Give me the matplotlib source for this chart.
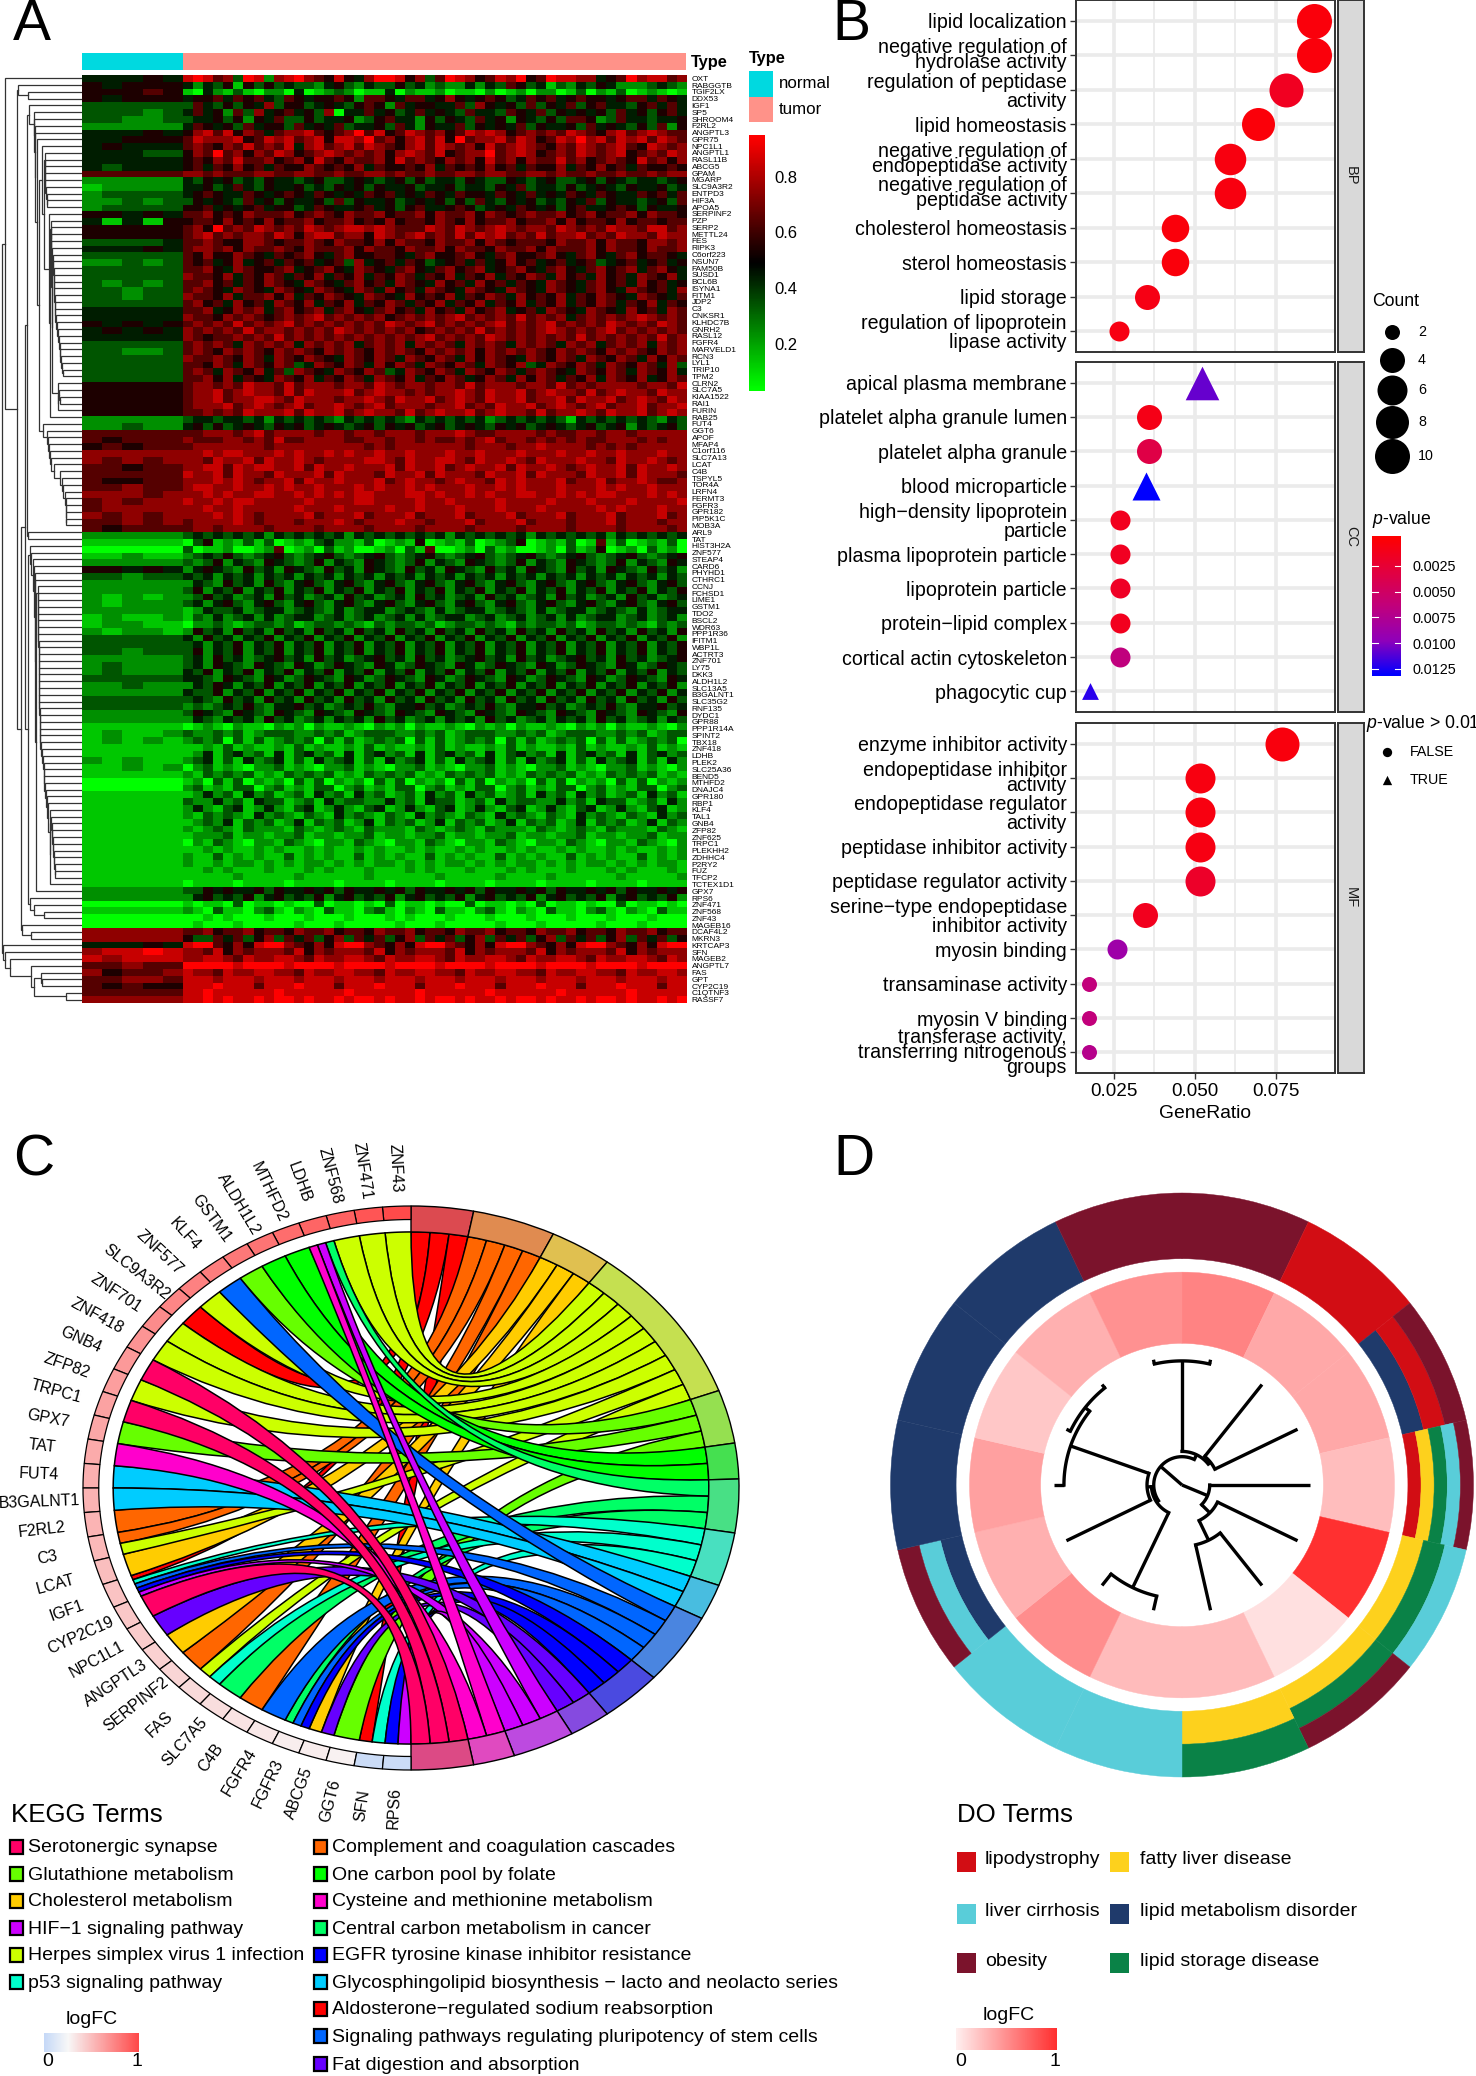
import numpy as np
import matplotlib
matplotlib.use('Agg')
import matplotlib.pyplot as plt
from matplotlib.patches import Rectangle, Wedge, PathPatch
from matplotlib.path import Path
from matplotlib.colors import LinearSegmentedColormap, Normalize

plt.rcParams['font.family'] = ['Liberation Sans', 'DejaVu Sans']
plt.rcParams['mathtext.fontset'] = 'custom'
plt.rcParams['mathtext.it'] = 'Liberation Sans:italic'
plt.rcParams['mathtext.rm'] = 'Liberation Sans'

W, H = 1476, 2076

# ---- panel A
row_genes = ['OXT','RABGGTB','TGIF2LX','DDX53','IGF1','SP5','SHROOM4','F2RL2','ANGPTL3','GPR75','NPC1L1','ANGPTL1',
 'RASL11B','ABCG5','GPAM','MGARP','SLC9A3R2','ENTPD3','HIF3A','APOA5','SERPINF2','PZP','SERP2','METTL24','FES','RIPK3',
 'C6orf223','NSUN7','FAM50B','SUSD1','BCL6B','ISYNA1','FITM1','JDP2','C3','CNKSR1','KLHDC7B','GNRH2','RASL12','FGFR4',
 'MARVELD1','RCN3','LYL1','TRIP10','TPM2','CLRN2','SLC7A5','KIAA1522','RAI1','FURIN','RAB25','FUT4','GGT6','APOF','MFAP4',
 'C1orf116','SLC7A13','LCAT','C4B','TSPYL5','TOR4A','LRFN4','FERMT3','FGFR3','GPR182','PIP5K1C','MOB3A','ARL9','TAT',
 'HIST3H2A','ZNF577','STEAP4','CARD6','PHYHD1','CTHRC1','CCNJ','FCHSD1','LIME1','GSTM1','TDO2','BSCL2','WDR63','PPP1R36',
 'IFITM1','WBP1L','ACTRT3','ZNF701','LY75','DKK3','ALDH1L2','SLC13A5','B3GALNT1','SLC35G2','RNF135','DYDC1','GPR88',
 'PPP1R14A','SPINT2','TBX18','ZNF418','LDHB','PLEK2','SLC25A36','BEND5','MTHFD2','DNAJC4','GPR180','RBP1','KLF4','TAL1',
 'GNB4','ZFP82','ZNF625','TRPC1','PLEKHH2','ZDHHC4','P2RY2','FUZ','TFCP2','TCTEX1D1','GPX7','RPS6','ZNF471','ZNF568',
 'ZNF43','MAGEB16','DCAF4L2','MKRN3','KRTCAP3','SFN','MAGEB2','ANGPTL7','FAS','GPT','CYP2C19','C1QTNF3','RASSF7']

# first 5 digits normal samples, other 50 tumor samples, 0 green .. 5 black .. 9 red
heat_rows = [
'44454','89867398278976585479985736987568795698877456978867',
'54555','42435153534332453243353423224243653413243542223432',
'55565','10421310220401232011402112011020120220130213012101',
'54555','45564656436545565266546645754565346564565545664654',
'33333','36435354735534543565264554463754536354635644356464',
'33323','46452637456453704464534645436443654635454536453564',
'33223','34453525463353445235644253543645254353665236443445',
'22222','46545364553645463445364254463545463544536454353625',
'44454','57868576467786567968568767568787567676876578678766',
'44555','68777856878678588796757868596778687568797868786876',
'45444','67657686768478678687657868767586787657687678658767',
'44433','57696757687567876767578768567796787567687678567687',
'44444','56576866756758657667586765767586757668675676586757',
'43444','56465756465576565746556574656575646557465756465565',
'66666','77676667766776676677676676677677667767667667667677',
'22222','43545343544345334543453534435433543453345354344345',
'12222','44534643544534354535445344534435463443534543544534',
'23333','45654465456546545465645465465546546454654654465646',
'22323','35454364535445363544534545353643545343546354434536',
'23333','55645456455346544564535644565345465453564456535445',
'55454','66756576667567657667566757667576567667567566757665',
'41415','56657565756675667565756657657566756675756657566566',
'55555','67596768767687678878766687687678767768767687768867',
'55555','67867677687578867758767867686878676867786768776877',
'33334','66765577656676576657576657667576566657667576657767',
'44454','67767576676576667576657667576657667576667576657667',
'33333','65755765465675467556654675567546755675467546756654',
'22323','65645745646564563745646534564645756456456345645645',
'33333','66754765567456754765467546756745675467546756746754',
'33333','76657465764657465746576465746574657647564756476574',
'32323','66756465765476546756476547564756465476546756475645',
'33233','67654765476547654764756476547654765476546754765647',
'33233','76657466757465765476547565746576475657465765476546',
'33333','67564756476574657465764657465746574657465764657465',
'44444','66745767467567467546756475647567456476547654756476',
'44444','76657676567678676767567676786767686767467676787676',
'54545','67676867678676767676876786767678676786767687676876',
'45454','76767686776767687676767567676867676787676786767676',
'44444','76566767686767676767676786767687676767686767676867',
'33333','67676476767476767467674767647676476764767467674767',
'33223','67657676576765767657676576767576767657676576765767',
'33333','76676576476576547657647657647576547657647657647576',
'33333','66576476576347657647576476576476573476576476576473',
'33333','67647657463765476576347657647657646765476576476574',
'33333','66757465476574657647657465764576475764657476574576',
'55555','67767687768677767768767767768677767768676777767768',
'55555','67786787768687778678776767787687786787768678776877',
'55555','67786778876877767787687786787687786778687786787687',
'55555','67778678767867787678677767786768778678767867786778',
'55555','66767687778687786787768678778678776867787687786787',
'22222','34434434243434324343432434343423434343143434343243',
'22322','45353454354534543453545345345435453454345345243453',
'66666','66777678677776776776777677787667777676677677677777',
'65666','76667767686677776677677676676786776767676677767677',
'56566','67777777677777777767677777776777677877776767677777',
'77777','77878877787877878778778777877877787778778778777877',
'76767','77687786877876777788768778876877876877787768778767',
'66566','77886878877868778777868778678778687787678778687787',
'66666','87786877687778687776877868777687786877768778687776',
'65566','77787876778687787778678776787768787778677867787667',
'66766','78877877878778777878778787778778787778777878778777',
'77767','77878778877878787887778878778787788778787887778787',
'67677','87787887777787777887777877877778777787778777877778',
'67777','77877877777877787777877877787778777877777878777877',
'76767','77787876777786777867778677786777867778677786777867',
'66767','67777876777677787677787767778677786777677786777677',
'65666','67767777677776777767777677776777767777677776777767',
'22222','34343434243434342434343434243434342434343424343434',
'11111','03512131301213422130121501213012350121301613012130',
'00000','30112001260120312001203160012031200120312501203120',
'11211','23435323453234532345323453234532345323453234532345',
'22222','32352432543235243254323524325432352432543235243254',
'55454','24543253425432534254325342543253425432534254325342',
'33233','43424342434243424342434243424342434243424342434243',
'22222','24325342532453245324532453245324532453245324532453',
'22222','35243524352435243524352435243524352435243524352435',
'21212','23534234253423425342342534234253423425342342534234',
'21222','34245324532453245324532453245324532453245324532453',
'22222','12433423442343242344234324234423432423442343242344',
'12112','13242342423442342342342423442342342342423442342342',
'12211','02232123323123323213233231233232132332312332321323',
'21221','25342534253425342534253425342534253425342534253425',
'33333','42534243524352435243524352435243524352435243524352',
'33333','34243524352435243524352435243524352435243524352435',
'33233','35243524352435243524352435243524352435243524352435',
'22222','34253423453425342345342534234534253423453425342345',
'23222','34254325432542354325423543254235432542354325423543',
'23222','43524352435243524352435243524352435243524352435243',
'33333','44325432542354325423543254235432542354325423543254',
'22322','24354243524352435243524352435243524352435243524352',
'22222','43352435243524352435243524352435243524352435243524',
'33333','34325342534253425342534253425342534253425342534253',
'33333','23234353244534234353244534234353244534234353244534',
'22222','35432543254325432543254325432543254325432543254325',
'22222','24324342534234243425342342434253423424342534234243',
'11111','01210211021202112102120211210212021121021202112102',
'12112','32232312333223231233322323123332232312333223231233',
'12121','23230313123230313123230313123230313123230313123230',
'11111','11213121121312112131211213121121312112131211213121',
'11111','12413423141342314134231413423141342314134231413423',
'21211','23413142341314234131423413142341314234131423413142',
'11212','02312102231210223121022312102231210223121022312102',
'11111','21323231213232312132323121323231213232312132323121',
'00000','12031302120313021203130212031302120313021203130212',
'00000','23121330231213302312133023121330231213302312133023',
'11111','12423142312314231423123142314231231423142312314231',
'11111','32242314331231423322423143312314233224231433123142',
'11111','24213412421341242134124213412421341242134124213412',
'11111','21323214232132142321321423213214232132142321321423',
'11111','12324132312413231241323124132312413231241323124132',
'11111','21232132221321232132221321232132221321232132221321',
'11111','12223122122312212231221223122122312212231221223122',
'11111','02132102213210221321022132102213210221321022132102',
'11111','11212112121121211212112121121211212112121121211212',
'11111','21131212113121211312121131212113121211312121131212',
'11111','21121221212122121212212121221212122121212212121221',
'11111','11212111211121211121112121112111212111211121211121',
'11111','11111211111211111121111112111112111121111112111112',
'11111','01111011110111101111011110111101111011110111101111',
'22222','33545445354454535445453544545354454535445453544545',
'22222','24534352453435245343524534352453435245343524534352',
'00000','10110301101003011010301101003011010301101003011010',
'11111','21031102310210311023102103110231021031102310210311',
'00000','00101000100010001000101000100010001000100010001000',
'00000','01000100000100010000010001000001000100000100010000',
'77777','66756675665766756657667566576675665766756657667566',
'77777','53364635736463573646357364635736463573646357364635',
'44454','89965758997657589976575899765758997657589976575899',
'78898','77685767776857677768576777685767776857677768576777',
'87888','77887687788768778876877887687788768778876877887687',
'66766','99999899998999989999899998999989999899998999989999',
'75667','87768778877687788776877887768778877687788776877887',
'66776','88878887888788878887888788878887888788878887888788',
'65655','88898886888988868889888688898886888988868889888688',
'66666','88988888898888889888888988888898888889888888988888',
'77777','88989889899898898998988989989889899898898998988989',
]

# merge position between neighbouring rows, read in pixels from the left of the tree
dend_gaps = [5,18,28,17,29,34,34,34.5,35,37,42,44.5,45,45,45,45,46,47,47,44,49,51,51,51,51,52,53,53,54,54,54,54,55,55,55,
 56,57,58,59,60,60,61,62,63,52,58,59,60,58,50,39,43,47,48,49,50,51,54,60,62,63,65,66,66,66,66,27,27.5,25,30,31,33,34,35,35,
 38,38,38,38,38,38,38,38,39,39,39,39,39,39,39,39,39,39,40,40,40,40,40,41,42,43,44,44,44,45,46,47,48,50,51,52,52,53,53,54,54,55,
 55,50,36,28,30,34,44,21,22,31,2,3,4.5,10,31,41,42,34,66]

type_groups = ['normal', 'tumor']
type_sizes = [20, 100]
type_colors = ['#00D9E0', '#FF9289']

# ---- panel B
bp_terms = ['lipid localization','negative regulation of\nhydrolase activity','regulation of peptidase\nactivity',
 'lipid homeostasis','negative regulation of\nendopeptidase activity','negative regulation of\npeptidase activity',
 'cholesterol homeostasis','sterol homeostasis','lipid storage','regulation of lipoprotein\nlipase activity']
bp_ratio = [0.0867,0.0867,0.0781,0.0696,0.0609,0.0609,0.0438,0.0438,0.0352,0.0265]
bp_count = [10,10,9,8,7,7,5,5,4,3]
bp_p = [0.0002,0.0002,0.0014,0.0001,0.0004,0.0004,0.0002,0.0002,0.0007,0.0006]
cc_terms = ['apical plasma membrane','platelet alpha granule lumen','platelet alpha granule','blood microparticle',
 'high\u2212density lipoprotein\nparticle','plasma lipoprotein particle','lipoprotein particle','protein\u2212lipid complex',
 'cortical actin cytoskeleton','phagocytic cup']
cc_ratio = [0.0523,0.0357,0.0357,0.0348,0.027,0.027,0.027,0.027,0.027,0.0175]
cc_count = [6,4,4,4,3,3,3,3,3,2]
cc_p = [0.0108,0.0008,0.0034,0.0132,0.0012,0.0014,0.0016,0.0012,0.0065,0.0122]
mf_terms = ['enzyme inhibitor activity','endopeptidase inhibitor\nactivity','endopeptidase regulator\nactivity',
 'peptidase inhibitor activity','peptidase regulator activity','serine\u2212type endopeptidase\ninhibitor activity',
 'myosin binding','transaminase activity','myosin V binding','transferase activity,\ntransferring nitrogenous\ngroups']
mf_ratio = [0.0768,0.0516,0.0516,0.0516,0.0516,0.0346,0.026,0.0174,0.0174,0.0174]
mf_count = [9,6,6,6,6,4,3,2,2,2]
mf_p = [0.0003,0.0005,0.0005,0.0006,0.0018,0.0012,0.0088,0.0063,0.0063,0.0072]
count_levels = [2,4,6,8,10]
count_diam = [15,25,30,33,35]
# these two-line labels sit further apart in the picture
loose_labels = ['regulation of peptidase\nactivity','regulation of lipoprotein\nlipase activity',
 'high\u2212density lipoprotein\nparticle','endopeptidase regulator\nactivity','serine\u2212type endopeptidase\ninhibitor activity']

# ---- panel C
kegg_terms = ['Aldosterone\u2212regulated sodium reabsorption','Complement and coagulation cascades','Cholesterol metabolism',
 'Herpes simplex virus 1 infection','Glutathione metabolism','One carbon pool by folate','Central carbon metabolism in cancer',
 'p53 signaling pathway','Glycosphingolipid biosynthesis \u2212 lacto and neolacto series',
 'Signaling pathways regulating pluripotency of stem cells','EGFR tyrosine kinase inhibitor resistance','Fat digestion and absorption',
 'HIF\u22121 signaling pathway','Cysteine and methionine metabolism','Serotonergic synapse']
ribbon_colors = ['#FF0000','#FF6600','#FFCC00','#CCFF00','#66FF00','#00FF00','#00FF66','#00FFCC','#00CCFF','#0066FF','#0000FF',
 '#6600FF','#CC00FF','#FF00CC','#FF0066']
ring_colors = ['#DC4A50','#E08B50','#E0C050','#C5E050','#95E050','#45E050','#48E085','#48E0C0','#48BDE0','#4A85E0','#4A4AE0',
 '#854AE0','#BD4AE0','#E04AC0','#DC4A85']
chord_genes = ['ZNF43','ZNF471','ZNF568','LDHB','MTHFD2','ALDH1L2','GSTM1','KLF4','ZNF577','SLC9A3R2','ZNF701','ZNF418','GNB4',
 'ZFP82','TRPC1','GPX7','TAT','FUT4','B3GALNT1','F2RL2','C3','LCAT','IGF1','CYP2C19','NPC1L1','ANGPTL3','SERPINF2','FAS',
 'SLC7A5','C4B','FGFR4','FGFR3','ABCG5','GGT6','SFN','RPS6']
chord_logfc = [1.0,.95,.9,.88,.85,.82,.8,.78,.76,.74,.72,.68,.66,.64,.62,.6,.58,.56,.55,.54,.52,.5,.48,.46,.44,.42,.4,.38,.36,
 .34,.32,.3,.3,.28,.03,.03]
# term index of every link of a gene, same order as chord_genes
chord_links = [[3],[3],[3],[6,12,13],[5],[5],[4],[9],[3],[0],[3],[3],[14],[3],[14],[4],[13],[8],[8],[1],[1,3],[2],
 [0,7,9,10,12],[14],[11],[2],[1],[3,7],[6],[1],[9],[6,9,10],[2,11],[4],[0,7],[10,12]]

# ---- panel D
do_colors = {'lipodystrophy':'#D20D14','fatty liver disease':'#FDD11D','liver cirrhosis':'#59CDD9',
 'lipid metabolism disorder':'#1F3A6B','obesity':'#7B132C','lipid storage disease':'#0A8247'}
LD, FL, LC, LM, OB, LS = 'lipodystrophy','fatty liver disease','liver cirrhosis','lipid metabolism disorder','obesity','lipid storage disease'
sector_terms = [[OB],[LD],[LM,LD,OB],[LD,FL,LS,LC,OB],[FL,LS,LC],[FL,LS,OB],[FL,LS],[LC],[LC],[LM,LC,OB],[LM],[LM],[LM],[OB]]
sector_logfc = [.6,.42,.42,.32,1.0,.15,.33,.33,.55,.38,.46,.27,.38,.53]
# (radius, child, child), a leaf is the sector number
do_tree = (0.0,
    (.095, 3, (.135, 4, (.21, 5, 6))),
    (.097,
        (.105, (.39, 7, 8), (.12, 9, (.405, 10, (.425, 11, 12)))),
        (.115, (.425, 13, 0), (.125, 1, 2))))


def add_ax(x0, y0, x1, y1, **kw):
    return fig.add_axes([x0/W, 1-y1/H, (x1-x0)/W, (y1-y0)/H], **kw)


fig = plt.figure(figsize=(W/100, H/100), dpi=100)
overlay = fig.add_axes([0, 0, 1, 1], zorder=20)
overlay.set_xlim(0, W); overlay.set_ylim(H, 0); overlay.axis('off'); overlay.patch.set_alpha(0)


def txt(x, y, s, size=12, **kw):
    kw.setdefault('va', 'center')
    overlay.text(x, y, s, fontsize=size, **kw)


for x, y, s in [(13, 25, 'A'), (832, 25, 'B'), (13, 1160, 'C'), (833, 1160, 'D')]:
    txt(x, y, s, 41)

# ---- A
heat_cmap = LinearSegmentedColormap.from_list('gbr', ['#00FF00', '#000000', '#FF0000'])
vmin, vmax = 0.03, 0.95
n_rows = len(row_genes)


def decode(start, stop, width):
    rows = []
    for i in range(0, len(heat_rows), 2):
        rows.append([int(c) for c in (heat_rows[i] + heat_rows[i+1])[start:stop].ljust(width, '5')])
    return vmin + (vmax-vmin)*np.array(rows)/9


ax_h = add_ax(82, 75, 686, 1003)
ax_h.imshow(decode(0, 5, 5), cmap=heat_cmap, vmin=vmin, vmax=vmax, aspect='auto', interpolation='nearest',
            extent=(0, type_sizes[0], n_rows, 0))
ax_h.imshow(decode(5, 55, 50), cmap=heat_cmap, vmin=vmin, vmax=vmax, aspect='auto', interpolation='nearest',
            extent=(type_sizes[0], sum(type_sizes), n_rows, 0))
ax_h.set_xlim(0, sum(type_sizes)); ax_h.set_ylim(n_rows, 0)
ax_h.set_xticks([])
ax_h.yaxis.tick_right()
ax_h.set_yticks(np.arange(n_rows)+.5, row_genes, fontsize=6)
ax_h.tick_params(axis='y', length=0, pad=4)
for s in ax_h.spines.values():
    s.set_visible(False)

ax_t = add_ax(82, 53, 686, 70)
ax_t.barh(0, type_sizes[0], left=0, height=1, color=type_colors[0])
ax_t.barh(0, type_sizes[1], left=type_sizes[0], height=1, color=type_colors[1])
ax_t.set_xlim(0, sum(type_sizes)); ax_t.set_ylim(-.5, .5); ax_t.axis('off')
txt(691, 63, 'Type', 11.8, fontweight='bold')
txt(749, 59, 'Type', 11.8, fontweight='bold')
for i, g in enumerate(type_groups):
    overlay.add_patch(Rectangle((749, 71+25.5*i), 24, 25.5, color=type_colors[i], lw=0))
    txt(779, 84+25.5*i, g, 12.2)

ax_d = add_ax(0, 75, 82, 1003)
ax_d.set_xlim(0, 82); ax_d.set_ylim(n_rows, 0); ax_d.axis('off')


def dend(lo, hi):
    if lo == hi:
        return lo+.5, 82
    k = lo + int(np.argmin(dend_gaps[lo:hi]))
    x = dend_gaps[k]
    y1, x1 = dend(lo, k)
    y2, x2 = dend(k+1, hi)
    ax_d.plot([x1, x, x, x2], [y1, y1, y2, y2], color='#333333', lw=0.9, solid_joinstyle='miter')
    return (y1+y2)/2, x


dend(0, n_rows-1)

ax_c = add_ax(749, 135, 765, 391)
ax_c.imshow(np.linspace(vmax, vmin, 100)[:, None], cmap=heat_cmap, vmin=vmin, vmax=vmax, aspect='auto',
            extent=(0, 1, vmin, vmax))
ax_c.set_xticks([])
ax_c.yaxis.tick_right()
ax_c.set_yticks([.2, .4, .6, .8], ['0.2', '0.4', '0.6', '0.8'], fontsize=12)
ax_c.tick_params(axis='y', length=0, pad=7)
for s in ax_c.spines.values():
    s.set_visible(False)

# ---- B
p_cmap = LinearSegmentedColormap.from_list('rb', ['#FF0000', '#E3003F', '#C1007C', '#9000BA', '#0000FF'])
p_norm = Normalize(-0.0004, 0.0132)
facets = [('BP', bp_terms, bp_ratio, bp_count, bp_p, 0, 352), ('CC', cc_terms, cc_ratio, cc_count, cc_p, 362, 712),
          ('MF', mf_terms, mf_ratio, mf_count, mf_p, 723, 1073)]
for name, terms, ratio, count, pval, y0, y1 in facets:
    ax = add_ax(1076, y0, 1335, y1)
    n = len(terms)
    ypos = np.arange(n)
    diam = np.interp(count, count_levels, count_diam)
    for xv, yv, d, p in zip(ratio, ypos, diam, pval):
        tri = p > 0.01
        ax.scatter(xv, yv, s=(d*.72*(1.12 if tri else 1))**2, marker='^' if tri else 'o',
                   color=p_cmap(p_norm(p)), linewidths=0, zorder=3, clip_on=True)
    ax.set_xlim(0.0133, 0.0932)
    ax.set_ylim(n-.4, -.6)
    ax.set_xticks([0.025, 0.05, 0.075])
    ax.set_xticks([0.0375, 0.0625], minor=True)
    ax.set_yticks(ypos, terms, fontsize=14.1, linespacing=0.72)
    for lab in ax.get_yticklabels():
        if lab.get_text() in loose_labels:
            lab.set_linespacing(1.0)
    ax.grid(True, which='major', color='#EBEBEB', lw=2.6)
    ax.grid(True, which='minor', axis='x', color='#EBEBEB', lw=1.3)
    ax.set_axisbelow(True)
    ax.tick_params(axis='y', length=4, width=1, color='#333333', pad=2.5)
    ax.tick_params(axis='x', which='minor', length=0)
    if name == 'MF':
        ax.set_xticklabels(['0.025', '0.050', '0.075'], fontsize=13.6)
        ax.tick_params(axis='x', length=4, width=1, color='#333333', pad=3)
        ax.set_xlabel('GeneRatio', fontsize=13.9, labelpad=4)
    else:
        ax.tick_params(axis='x', length=0, labelbottom=False)
    for s in ax.spines.values():
        s.set_color('#333333'); s.set_linewidth(1.4)
    strip = add_ax(1338, y0, 1364, y1)
    strip.set_facecolor('#D9D9D9'); strip.set_xticks([]); strip.set_yticks([])
    for s in strip.spines.values():
        s.set_color('#333333'); s.set_linewidth(1.4)
    strip.text(.5, .5, name, rotation=-90, ha='center', va='center', fontsize=10.5, transform=strip.transAxes, color='#1a1a1a')

txt(1372, 302, 'Count', 12.7)
for c, d, y in zip(count_levels, count_diam, [332, 360, 389.5, 421.5, 456]):
    overlay.scatter(1392, y, s=(d*.72)**2, color='black', linewidths=0)
    txt(1418, y, str(c), 10.3)
txt(1372, 520, r'$\mathit{p}$-value', 12.7)
ax_p = add_ax(1372, 536, 1401, 676)
ax_p.imshow(np.linspace(-0.0004, 0.0132, 100)[:, None], cmap=p_cmap, norm=p_norm, aspect='auto',
            extent=(0, 1, 0.0132, -0.0004))
ax_p.set_xlim(0, 1); ax_p.set_ylim(0.0132, -0.0004); ax_p.set_xticks([])
p_ticks = [0.0025, 0.005, 0.0075, 0.01, 0.0125]
ax_p.yaxis.tick_right()
ax_p.set_yticks(p_ticks, ['%.4f' % t for t in p_ticks], fontsize=10.4)
ax_p.tick_params(axis='y', length=0, pad=8)
for t in p_ticks:
    ax_p.plot([0, .2], [t, t], color='white', lw=.8)
    ax_p.plot([.8, 1], [t, t], color='white', lw=.8)
for s in ax_p.spines.values():
    s.set_visible(False)
txt(1366, 723, r'$\mathit{p}$-value > 0.01', 12.7, clip_on=False)
overlay.scatter(1387, 752, s=45, marker='o', color='black', linewidths=0)
overlay.scatter(1387, 780, s=45, marker='^', color='black', linewidths=0)
txt(1410, 752, 'FALSE', 10.3)
txt(1410, 780, 'TRUE', 10.3)

# ---- C
CX, CY, RX, RY = 411, 1488, 328, 282
ax_ch = add_ax(CX-1.25*RX, CY-1.25*RY, CX+1.25*RX, CY+1.25*RY)
ax_ch.set_xlim(-1.25, 1.25); ax_ch.set_ylim(-1.25, 1.25); ax_ch.axis('off')
fc_cmap = LinearSegmentedColormap.from_list('fc', [(0, '#C6D9F7'), (.25, '#F8F8F8'), (1, '#FF4A4A')])


def pt(theta, r=1.0):
    a = np.deg2rad(theta)
    return r*np.sin(a), r*np.cos(a)


def arc(t0, t1, r, n=10):
    return [pt(t, r) for t in np.linspace(t0, t1, n)]


n_links = sum(len(v) for v in chord_links)
unit = 180/n_links
term_counts = [sum(v.count(j) for v in chord_links) for j in range(len(kegg_terms))]
term_start = np.concatenate([[0], np.cumsum(term_counts)])*unit
gene_step = 180/len(chord_genes)
R_IN = .908

# both ends of the links
slots = [[] for _ in kegg_terms]
for i, links in enumerate(chord_links):
    top = 360-i*gene_step
    w = gene_step/len(links)
    for k, j in enumerate(links):
        slots[j].append((top-(k+1)*w, top-k*w))

for j, ends in enumerate(slots):
    for k, (g0, g1) in enumerate(ends):
        t0 = term_start[j]+k*unit
        t1 = t0+unit
        verts = arc(t0, t1, R_IN)
        codes = [Path.MOVETO]+[Path.LINETO]*(len(verts)-1)
        verts += [(0, 0), pt(g0, R_IN)]
        codes += [Path.CURVE3, Path.CURVE3]
        a = arc(g0, g1, R_IN)[1:]
        verts += a
        codes += [Path.LINETO]*len(a)
        verts += [(0, 0), pt(t0, R_IN)]
        codes += [Path.CURVE3, Path.CURVE3]
        ax_ch.add_patch(PathPatch(Path(verts, codes), fc=ribbon_colors[j], ec='black', lw=1.1))

for j in range(len(kegg_terms)):
    ax_ch.add_patch(Wedge((0, 0), 1, 90-term_start[j+1], 90-term_start[j], width=1-R_IN, fc=ring_colors[j], ec='black', lw=1))
for i, g in enumerate(chord_genes):
    t1 = 360-i*gene_step
    t0 = t1-gene_step
    ax_ch.add_patch(Wedge((0, 0), 1, 90-t1, 90-t0, width=.048, fc=fc_cmap(chord_logfc[i]), ec='black', lw=.9))
    mid = (t0+t1)/2
    x, y = pt(mid, 1.135)
    phi = np.deg2rad(360-mid)
    rot = np.rad2deg(np.arctan2(-np.cos(phi)*RY, np.sin(phi)*RX))
    ax_ch.text(x, y, g, rotation=rot, rotation_mode='anchor', ha='center', va='center', fontsize=11.5, clip_on=False)

txt(11, 1815, 'KEGG Terms', 18.6)
col1 = [14, 4, 2, 12, 3, 7]
col2 = [1, 5, 13, 6, 10, 8, 0, 9, 11]
ys2 = [1847, 1874, 1901, 1928, 1955, 1982, 2009, 2036, 2064]
for col, sx, tx in [(col1, 10, 28.5), (col2, 313.5, 332)]:
    for j, y in zip(col, ys2):
        overlay.add_patch(Rectangle((sx, y-7), 13, 14, fc=ribbon_colors[j], ec='black', lw=1.6))
        txt(tx, y+1, kegg_terms[j], 14)
txt(92, 2020, 'logFC', 14, ha='center')
ax_fc = add_ax(44, 2033, 139, 2052)
ax_fc.imshow(np.linspace(0, 1, 100)[None, :], cmap=fc_cmap, aspect='auto', extent=(0, 1, 0, 1))
ax_fc.axis('off')
txt(48, 2062, '0', 14, ha='center')
txt(137, 2062, '1', 14, ha='center')

# ---- D
ax_do = add_ax(1182-1.02*291.5, 1485-1.02*292, 1182+1.02*291.5, 1485+1.02*292)
ax_do.set_xlim(-1.02, 1.02); ax_do.set_ylim(-1.02, 1.02); ax_do.axis('off')
do_cmap = LinearSegmentedColormap.from_list('wr', ['#FFFFFF', '#FF3030'])
n_sec = len(sector_terms)
sec = 360/n_sec
for i in range(n_sec):
    t0, t1 = i*sec, (i+1)*sec
    col = do_cmap(sector_logfc[i])
    ax_do.add_patch(Wedge((0, 0), .729, 90-t1, 90-t0, width=.729-.485, fc=col, ec=col, lw=.3))
    terms = sector_terms[i]
    dr = (1-.775)/len(terms)
    for k, name in enumerate(terms):
        r = .775+(k+1)*dr
        ax_do.add_patch(Wedge((0, 0), r, 90-t1, 90-t0, width=dr, fc=do_colors[name], ec=do_colors[name], lw=.3))


def leaf_angle(i):
    a = (i+.5)*sec
    return a-360 if a > 180 else a


def draw_tree(node):
    if not isinstance(node, tuple):
        return leaf_angle(node), .44
    r, c1, c2 = node
    a1, r1 = draw_tree(c1)
    a2, r2 = draw_tree(c2)
    for a, rc in [(a1, r1), (a2, r2)]:
        x0, y0 = pt(a, r)
        x1, y1 = pt(a, rc)
        ax_do.plot([x0, x1], [y0, y1], color='black', lw=2.4, solid_capstyle='butt')
    xy = np.array(arc(a1, a2, r, 30))
    ax_do.plot(xy[:, 0], xy[:, 1], color='black', lw=2.4)
    return (a1+a2)/2, r


draw_tree(do_tree)

txt(957, 1815, 'DO Terms', 18.6)
do_legend = [(957, 985, 1862, LD), (957, 985, 1914, LC), (957, 985, 1963, OB),
             (1110, 1140, 1862, FL), (1110, 1140, 1914, LM), (1110, 1140, 1963, LS)]
for sx, tx, y, name in do_legend:
    overlay.add_patch(Rectangle((sx, y-10), 19, 20, fc=do_colors[name], ec='none'))
    txt(tx, y-2, name, 14)
txt(1009, 2016, 'logFC', 14, ha='center')
ax_fd = add_ax(956, 2028, 1057, 2050)
ax_fd.imshow(np.linspace(.08, 1, 100)[None, :], cmap=do_cmap, vmin=0, vmax=1, aspect='auto', extent=(0, 1, 0, 1))
ax_fd.axis('off')
txt(961, 2062, '0', 14, ha='center')
txt(1055, 2062, '1', 14, ha='center')

fig.savefig('out.png', dpi=100)
